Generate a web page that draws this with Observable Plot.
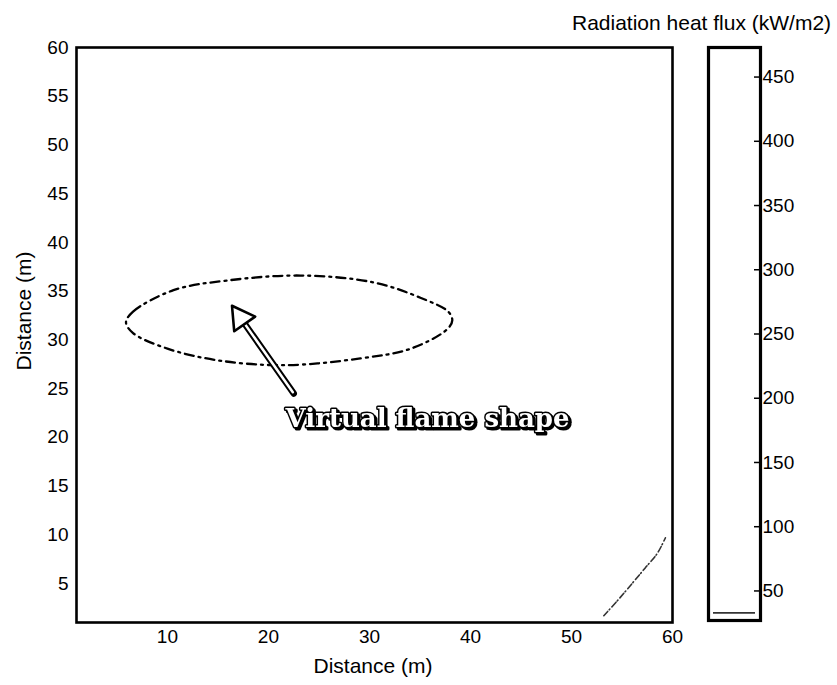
<!DOCTYPE html>
<html>
<head>
<meta charset="utf-8">
<script src="https://cdn.jsdelivr.net/npm/d3@7"></script>
<script src="https://cdn.jsdelivr.net/npm/@observablehq/plot@0.6"></script>
<style>
  body { margin: 0; background: #fff; }
  #wrap { position: relative; width: 837px; height: 685px; overflow: hidden; background: #fff; }
  #wrap svg { position: absolute; left: 0; top: 0; }
  .lbl { position: absolute; font-family: "Liberation Sans", Arial, sans-serif; font-size: 21px; line-height: 21px; color: #000; white-space: nowrap; }
  g[font-family="DejaVu Serif"] { filter: drop-shadow(2.5px 2.5px 0 #000); }
</style>
</head>
<body>
<div id="wrap">
  <div class="lbl" id="title" style="left:572px; top:12px;">Radiation heat flux (kW/m2)</div>
  <div class="lbl" id="xlabel" style="left:273px; top:655px; width:200px; text-align:center;">Distance (m)</div>
  <div class="lbl" id="ylabel" style="left:-76px; top:300px; width:200px; height:22px; line-height:22px; text-align:center; transform: rotate(-90deg);">Distance (m)</div>
</div>
<script>
// ---- data ----
const xTicks = [10, 20, 30, 40, 50, 60];
const yTicks = [5, 10, 15, 20, 25, 30, 35, 40, 45, 50, 55, 60];
const cbTicks = [50, 100, 150, 200, 250, 300, 350, 400, 450];
const cbDomain = [27, 473];
const contourLevels = [33];

// contour line (bottom-right corner)
const contourX = [53.2, 54.6, 56.0, 57.3, 58.5, 59.3];
const contourY = [1.7, 3.3, 5.0, 6.6, 8.1, 9.7];

// virtual flame ellipse outline
const ellipseX = [5.9, 6.6, 10.6, 16.0, 23.2, 30.4, 35.1, 37.8, 38.2, 37.7, 34.1, 29.1, 21.5, 15.0, 10.0, 6.6];
const ellipseY = [31.8, 32.9, 35.1, 36.1, 36.6, 35.9, 34.3, 32.9, 32.0, 31.1, 29.1, 28.1, 27.4, 27.9, 29.1, 30.7];

// annotation arrow (tail -> tip) and label
const arrowTail = [22.5, 24.5];
const arrowTip = [16.4, 33.5];
const noteText = ["Virtual flame shape"];
const notePos = [21.7, 21.9];

// ---- build tables ----
const contour = contourX.map((x, i) => ({x, y: contourY[i]}));
const ellipse = ellipseX.map((x, i) => ({x, y: ellipseY[i]}));
const arrow = [{x1: arrowTail[0], y1: arrowTail[1], x2: arrowTip[0], y2: arrowTip[1]}];
const head = [{x: arrowTip[0], y: arrowTip[1]}];
const note = noteText.map(t => ({t, x: notePos[0], y: notePos[1]}));

const tickFont = '"Liberation Sans", Arial, sans-serif';

const main = Plot.plot({
  width: 837,
  height: 685,
  marginLeft: 76,
  marginRight: 165,
  marginTop: 47,
  marginBottom: 63,
  style: {fontFamily: tickFont, fontSize: "19px", color: "#000", background: "transparent"},
  x: {domain: [1, 60], ticks: xTicks, tickSize: 0, tickPadding: 7, label: null},
  y: {domain: [1, 60], ticks: yTicks, tickSize: 0, tickPadding: 8, label: null},
  marks: [
    Plot.line(contour, {x: "x", y: "y", stroke: "#333", strokeWidth: 1.6, strokeDasharray: "6,2,1,3", curve: "catmull-rom"}),
    Plot.line(ellipse, {x: "x", y: "y", stroke: "#000", strokeWidth: 2.3, strokeDasharray: "9,5,2,5", curve: "catmull-rom-closed"}),
    Plot.arrow(arrow, {x1: "x1", y1: "y1", x2: "x2", y2: "y2", stroke: "#000", strokeWidth: 6.5, headLength: 0, insetEnd: 16}),
    Plot.arrow(arrow, {x1: "x1", y1: "y1", x2: "x2", y2: "y2", stroke: "#fff", strokeWidth: 2.5, headLength: 0, insetEnd: 16, insetStart: 1.5}),
    Plot.dot(head, {x: "x", y: "y", symbol: "triangle", r: 9.5, rotate: -35, dx: 8.4, dy: 12.1,
      fill: "#fff", stroke: "#000", strokeWidth: 2.6, strokeLinejoin: "round"}),
    Plot.text(note, {x: "x", y: "y", text: "t", textAnchor: "start", fill: "#fff", stroke: "#000", strokeWidth: 3,
      fontFamily: "DejaVu Serif", fontWeight: "bold", fontSize: 26}),
    Plot.frame({stroke: "#000", strokeWidth: 2.6})
  ]
});

const cbar = Plot.plot({
  width: 837,
  height: 685,
  marginLeft: 708,
  marginRight: 77,
  marginTop: 47,
  marginBottom: 65,
  style: {fontFamily: tickFont, fontSize: "19px", color: "#000", background: "transparent"},
  x: {domain: [0, 1], axis: null},
  y: {domain: cbDomain, ticks: cbTicks, axis: "right", tickSize: 0, tickPadding: 2, label: null},
  marks: [
    Plot.ruleY(contourLevels, {stroke: "#333", strokeWidth: 1.8, insetLeft: 5, insetRight: 5}),
    Plot.tickY(cbTicks, {y: d => d, stroke: "#000", strokeWidth: 1.5, insetLeft: 46}),
    Plot.frame({stroke: "#000", strokeWidth: 3.2})
  ]
});

const wrap = document.getElementById("wrap");
wrap.appendChild(main);
wrap.appendChild(cbar);
</script>
</body>
</html>
